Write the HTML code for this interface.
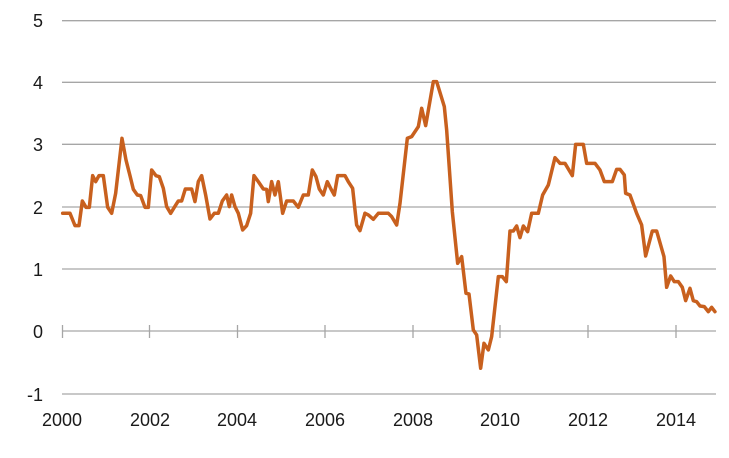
<!DOCTYPE html>
<html><head><meta charset="utf-8"><style>
html,body{margin:0;padding:0;background:#fff;}
svg{display:block;font-family:"Liberation Sans",Arial,sans-serif;}
</style></head><body>
<svg width="729" height="458" viewBox="0 0 729 458" xmlns="http://www.w3.org/2000/svg">
<g stroke="#a6a6a6" stroke-width="1.3">
<line x1="62" y1="20.7" x2="716" y2="20.7"/>
<line x1="62" y1="82.3" x2="716" y2="82.3"/>
<line x1="62" y1="144.3" x2="716" y2="144.3"/>
<line x1="62" y1="207" x2="716" y2="207"/>
<line x1="62" y1="269" x2="716" y2="269"/>
<line x1="62" y1="331" x2="716" y2="331"/>
<line x1="62" y1="394" x2="716" y2="394"/>
<line x1="62.5" y1="325" x2="62.5" y2="338"/>
<line x1="149.5" y1="325" x2="149.5" y2="338"/>
<line x1="237.5" y1="325" x2="237.5" y2="338"/>
<line x1="325" y1="325" x2="325" y2="338"/>
<line x1="413" y1="325" x2="413" y2="338"/>
<line x1="500" y1="325" x2="500" y2="338"/>
<line x1="588" y1="325" x2="588" y2="338"/>
<line x1="676" y1="325" x2="676" y2="338"/>
</g>
<g font-size="18" fill="#1a1a1a" text-anchor="end">
<text x="43" y="27">5</text>
<text x="43" y="89">4</text>
<text x="43" y="151">3</text>
<text x="43" y="214">2</text>
<text x="43" y="276">1</text>
<text x="43" y="338">0</text>
<text x="43" y="401">-1</text>
</g>
<g font-size="18" fill="#1a1a1a" text-anchor="middle">
<text x="62" y="426">2000</text>
<text x="150" y="426">2002</text>
<text x="237" y="426">2004</text>
<text x="325" y="426">2006</text>
<text x="413" y="426">2008</text>
<text x="500" y="426">2010</text>
<text x="588" y="426">2012</text>
<text x="676" y="426">2014</text>
</g>
<g fill="none" stroke="#c8601e" stroke-width="3.5" stroke-linejoin="round" stroke-linecap="round">
<polyline transform="scale(0.3333)" vector-effect="non-scaling-stroke" points="188,640 210,640 225,677 237,677 247,603 258,622 268,622 278,527 287,545 297,527 310,527 323,622 335,640 347,580 366,415 378,480 390,527 400,568 412,585 422,587 435,622 445,622 455,510 468,527 478,530 490,565 500,620 512,640 523,622 535,603 545,603 556,567 575,567 585,605 595,545 605,527 617,585 630,657 643,640 655,640 667,603 680,585 688,620 695,585 705,620 715,640 728,690 740,677 752,640 762,527 775,545 790,567 800,568 805,605 815,545 825,585 835,545 848,640 860,603 880,603 895,622 910,585 925,585 937,510 948,530 958,567 970,585 982,545 993,567 1003,585 1013,527 1035,527 1045,545 1058,565 1070,675 1080,692 1095,640"/>
<polyline transform="translate(365,0) scale(0.3333)" vector-effect="non-scaling-stroke" points="0,640 10,645 25,658 40,640 70,640 80,650 95,675 105,610 127,415 140,410 160,380 170,325 182,377 205,245 215,245 238,320 245,390 262,635 278,790 290,770 303,880 312,882 325,990 335,1005 347,1105 357,1030 370,1050 380,1010 400,830 412,830 424,845 435,693 445,693 455,678 465,713 475,678 488,695 500,640 520,640 533,585 550,555 570,473 585,490 600,490 622,527 632,433 655,433 665,490 690,490 705,510 718,545 742,545 755,508 765,508 778,525 782,580 795,585 815,640 830,675 842,768 862,693 875,693 897,770 905,862 917,828 928,845 940,845 952,862 962,902 975,865 985,902 995,905 1005,918 1018,920 1030,935 1040,922 1050,935"/>
</g>
</svg>
</body></html>
